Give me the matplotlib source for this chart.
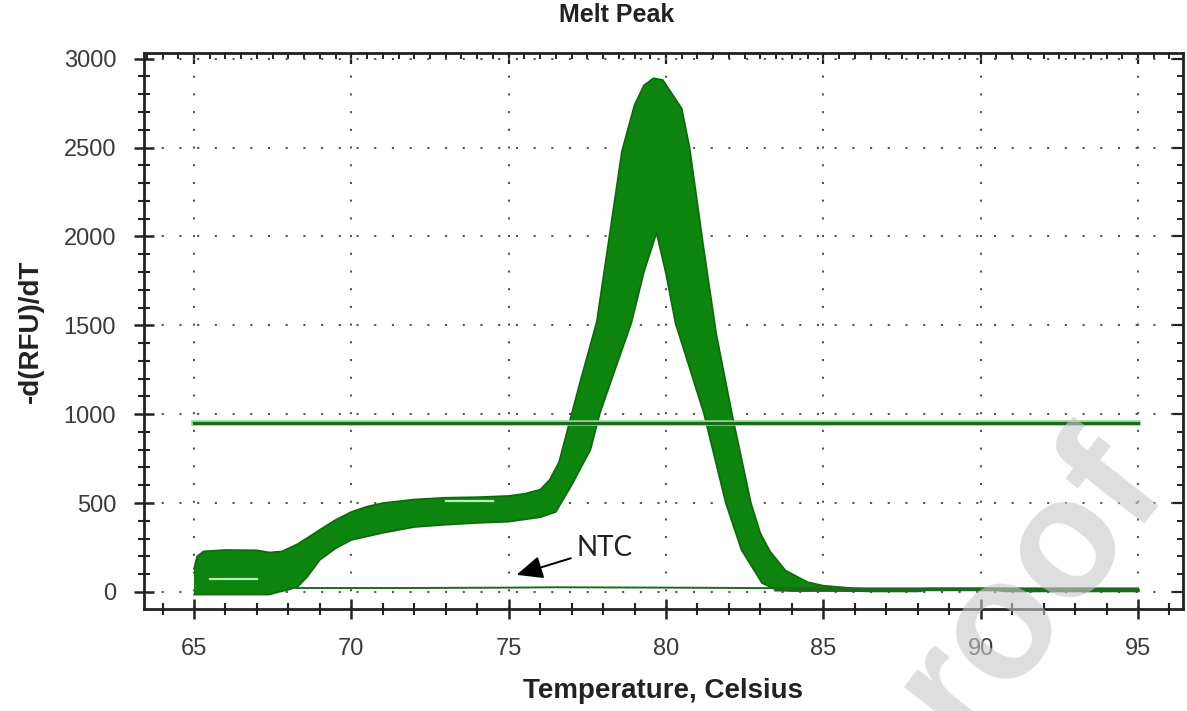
import matplotlib

matplotlib.use("Agg")
import matplotlib.pyplot as plt
import numpy as np
from matplotlib.ticker import MultipleLocator

# ==================== Data ====================
# outer top edge of the sample curve bundle, left to right
UPPER_TEMP = [65.0, 65.1, 65.3, 66.0, 67.0, 67.4, 67.8, 68.3, 68.7, 69.0, 69.5, 70.0,
              70.5, 71.0, 72.0, 73.0, 74.0, 75.0, 75.5, 76.0, 76.3, 76.6, 77.0, 77.3,
              77.8, 78.2, 78.6, 79.0, 79.3, 79.6, 79.9, 80.2, 80.5, 80.75, 81.2, 81.6,
              82.1, 82.7, 83.0, 83.3, 83.8, 84.5, 85.0, 86.0, 87.0]
UPPER_VAL = [130, 200, 228, 236, 234, 222, 228, 270, 315, 350, 405, 450,
             480, 500, 520, 530, 533, 540, 552, 575, 630, 730, 1000, 1200,
             1520, 2000, 2480, 2740, 2850, 2890, 2880, 2800, 2720, 2500, 1930, 1450,
             1000, 500, 330, 230, 120, 55, 35, 20, 12]

# bottom / inner edge of the bundle, left to right
LOWER_TEMP = [65.0, 67.4, 67.7, 68.0, 68.3, 68.6, 69.0, 69.5, 70.0, 71.0, 72.0, 73.0,
              74.0, 75.0, 76.0, 76.5, 77.0, 77.6, 77.9, 78.4, 78.9, 79.3, 79.7, 80.0,
              80.3, 81.2, 81.9, 82.4, 83.05, 83.5, 84.0, 87.0]
LOWER_VAL = [-15, -15, 0, 12, 30, 85, 180, 245, 292, 332, 365, 378,
             388, 395, 420, 450, 600, 800, 1005, 1260, 1513, 1800, 2020, 1790,
             1513, 1007, 500, 236, 50, 12, 5, 5]

# light streaks inside the bundle
STREAK_A_TEMP = [65.5, 67.0]
STREAK_A_VAL = [73, 73]
STREAK_B_TEMP = [73.0, 74.5]
STREAK_B_VAL = [512, 512]

# flat tail of the samples after melting
TAIL_TEMP = [83.5, 85.0, 86.5, 88.0, 88.3, 90.5, 90.8, 95.0]
TAIL_VAL = [12, 14, 8, 8, 14, 14, 8, 8]

# NTC trace
NTC_TEMP = [68.0, 72.0, 75.0, 76.5, 80.0, 85.0, 90.0, 95.0]
NTC_VAL = [22, 22, 24, 26, 24, 20, 20, 20]

# threshold line
THRESH_TEMP = [65.0, 95.0]
THRESH_VAL = [950, 950]

NTC_TIP = (75.25, 96)
NTC_TEXT = (77.15, 247)
# =======================================================================

GREEN = "#0d840d"
DARK_GREEN = "#1c6b1c"
FONT = ["Liberation Sans", "DejaVu Sans"]


def main():
    plt.rcParams["font.family"] = FONT
    fig = plt.figure(figsize=(11.87, 7.11), dpi=100)
    ax = fig.add_axes([0.1213, 0.1435, 0.8753, 0.782])

    # sample bundle as filled envelope
    outline_t = np.concatenate([UPPER_TEMP, LOWER_TEMP[::-1]])
    outline_v = np.concatenate([UPPER_VAL, LOWER_VAL[::-1]])
    ax.fill(outline_t, outline_v, color=GREEN, lw=0, zorder=3)
    ax.plot(UPPER_TEMP, UPPER_VAL, color="#0b6a0b", lw=1.2, zorder=4)
    ax.plot(LOWER_TEMP, LOWER_VAL, color="#0b6a0b", lw=1.2, zorder=4)
    ax.plot(STREAK_A_TEMP, STREAK_A_VAL, color="#b8f0b8", lw=1.6, zorder=5)
    ax.plot(STREAK_B_TEMP, STREAK_B_VAL, color="#b8f0b8", lw=1.6, zorder=5)

    ax.plot(TAIL_TEMP, TAIL_VAL, color=DARK_GREEN, lw=2.6, zorder=4)
    ax.plot(NTC_TEMP, NTC_VAL, color=DARK_GREEN, lw=1.4, zorder=4)
    ax.plot(THRESH_TEMP, THRESH_VAL, color="#8fd88f", lw=4.0, zorder=4)
    ax.plot(THRESH_TEMP, THRESH_VAL, color=DARK_GREEN, lw=2.2, zorder=5)

    ax.annotate(
        "NTC",
        xy=NTC_TIP,
        xytext=NTC_TEXT,
        ha="left",
        va="center",
        fontsize=20,
        family=["Lato", "DejaVu Sans"],
        color="#222222",
        arrowprops=dict(arrowstyle="-|>,head_length=0.8,head_width=0.35", color="black", lw=1.4,
                        shrinkA=2, shrinkB=0),
        zorder=6,
    )

    ax.set_xlim(63.41, 96.43)
    ax.set_ylim(-96, 3032)
    ax.xaxis.set_major_locator(MultipleLocator(5))
    ax.xaxis.set_minor_locator(MultipleLocator(1))
    ax.yaxis.set_major_locator(MultipleLocator(500))
    ax.yaxis.set_minor_locator(MultipleLocator(100))
    ax.set_xticks(np.arange(65, 96, 5))

    ax.grid(True, which="major", color="#555555", lw=1.5, linestyle=(0, (1, 7.5)))
    ax.set_axisbelow(True)

    ax.tick_params(which="major", direction="inout", length=14, width=1.8, colors="#222222",
                   labelsize=17, labelcolor="#3a3a3a")
    ax.tick_params(which="minor", direction="inout", length=8, width=1.5, colors="#222222")
    ax.tick_params(axis="x", pad=14)
    ax.tick_params(axis="y", pad=13)
    for side in ["left", "bottom", "top", "right"]:
        ax.spines[side].set_linewidth(2.0)
        ax.spines[side].set_color("#222222")

    top = ax.secondary_xaxis("top")
    top.xaxis.set_major_locator(MultipleLocator(5))
    top.xaxis.set_minor_locator(MultipleLocator(0.5))
    top.tick_params(which="both", direction="in", labeltop=False, colors="#222222")
    top.tick_params(which="major", length=8, width=1.6)
    top.tick_params(which="minor", length=4, width=1.4)
    right = ax.secondary_yaxis("right")
    right.yaxis.set_major_locator(MultipleLocator(500))
    right.yaxis.set_minor_locator(MultipleLocator(100))
    right.tick_params(which="both", direction="in", labelright=False, colors="#222222")
    right.tick_params(which="major", length=8, width=1.6)
    right.tick_params(which="minor", length=4, width=1.4)

    ax.set_xlabel("Temperature, Celsius", fontsize=20, fontweight="bold", color="#222222",
                  labelpad=13)
    ax.set_ylabel("-d(RFU)/dT", fontsize=20, fontweight="bold", color="#222222", labelpad=14)
    fig.text(617 / 1187, 1 - 15 / 711, "Melt Peak", ha="center", va="center", fontsize=18,
             fontweight="bold", color="#222222")

    # watermark
    fig.text(1030 / 1187, 1 - 585 / 711, "roof", ha="center", va="center", fontsize=122,
             fontweight="bold", rotation=52, color="#c8c8c8", alpha=0.6, zorder=10)

    fig.savefig("out.png", dpi=100)
    plt.close(fig)


if __name__ == "__main__":
    main()
